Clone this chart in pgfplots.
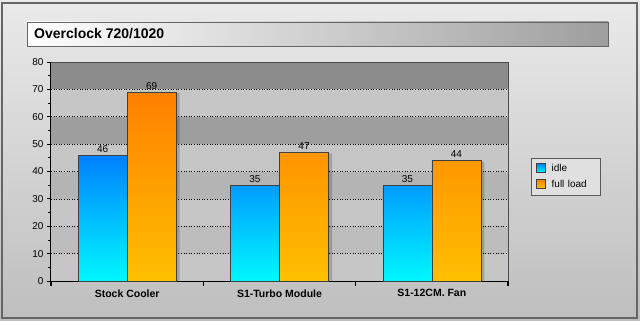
\documentclass[border=0pt]{standalone}
\usepackage{fontspec}
\setmainfont{Liberation Sans}
\usepackage{pgfplots}
\pgfplotsset{compat=1.18}
\definecolor{bgA}{HTML}{EAEAEA}
\definecolor{bgB}{HTML}{BEBEBE}
\definecolor{bandD}{HTML}{8C8C8C}
\definecolor{bandL}{HTML}{C6C6C6}
\definecolor{bandM}{HTML}{9E9E9E}
\definecolor{bandN}{HTML}{B4B4B4}
\definecolor{bandO}{HTML}{BDBDBD}
\definecolor{idleT}{HTML}{0080FF}
\definecolor{idleB}{HTML}{00F8FF}
\definecolor{fullT}{HTML}{FF8000}
\definecolor{fullB}{HTML}{FFC000}
\begin{document}
\begin{tikzpicture}[x=1pt,y=1pt]
\path[use as bounding box] (0,0) rectangle (640,321);
\shade[shading angle=30, top color=bgA, bottom color=bgB] (0,0) rectangle (640,321);
\draw[black!60, line width=1.2pt] (2,3) rectangle (637,318);
\shade[left color=white, right color=black!38, draw=black!60, line width=0.6pt] (27,275) rectangle (608,299);
\node[anchor=west, font=\bfseries\fontsize{14}{16}\selectfont, inner sep=0pt] at (34,287) {Overclock 720/1020};
\begin{axis}[
  at={(51pt,40pt)}, anchor=south west,
  width=457pt, height=219pt, scale only axis,
  ymin=0, ymax=80, xmin=-0.5, xmax=2.5,
  ybar, bar width=49pt,
  ytick={0,10,...,80}, minor y tick num=1,
  xtick={0,1,2},
  xticklabels={Stock Cooler, S1-Turbo Module, S1-12CM. Fan},
  x tick label style={font=\bfseries\fontsize{10.5}{12}\selectfont, yshift=-1pt},
  y tick label style={font=\fontsize{10}{12}\selectfont},
  /pgf/number format/assume math mode=true,
  major x tick style={draw=none},
  tick align=outside,
  ytick style={draw=black, line width=0.8pt},
  major tick length=4pt, minor tick length=2.5pt,
  axis x line*=bottom, axis y line*=left,
  axis line style={line width=1.2pt, -},
  legend style={at={(1.0503,0.5616)}, anchor=north west, draw=black!65,
    fill=black!12, font=\fontsize{10}{12}\selectfont, inner xsep=5pt, inner ysep=4pt,
    row sep=3pt, text width=42pt, /tikz/every odd column/.append style={column sep=4pt}},
  legend image code/.code={\path[#1, draw=black!75] (4pt,-4pt) rectangle (13pt,5pt);},
  clip=false,
]
\fill[bandL] (axis cs:-0.5,0) rectangle (axis cs:2.5,80);
\fill[bandD] (axis cs:-0.5,70) rectangle (axis cs:2.5,80);
\fill[bandM] (axis cs:-0.5,50) rectangle (axis cs:2.5,60);
\fill[bandN] (axis cs:-0.5,30) rectangle (axis cs:2.5,40);
\fill[bandO] (axis cs:-0.5,10) rectangle (axis cs:2.5,20);
\pgfplotsinvokeforeach{10,20,30,40,50,60,70}{\draw[black, dotted, line width=0.6pt] (axis cs:-0.5,#1) -- (axis cs:2.5,#1);}
\draw[black!70, line width=0.7pt] (axis cs:-0.5,80) -- (axis cs:2.5,80) -- (axis cs:2.5,0);
\pgfplotsinvokeforeach{-0.5,0.5,1.5,2.5}{\draw[black, line width=1.2pt] (axis cs:#1,0) -- ++(0pt,-5pt);}
\addplot[forget plot, draw=none, fill=black, fill opacity=0.18, bar shift=-21pt]
  coordinates {(0,45.6) (1,34.6) (2,34.6)};
\addplot[forget plot, draw=none, fill=black, fill opacity=0.18, bar shift=28pt]
  coordinates {(0,68.6) (1,46.6) (2,43.6)};
\addplot[draw=black!75, line width=0.5pt, top color=idleT, bottom color=idleB, bar shift=-24.5pt,
  nodes near coords, every node near coord/.append style={font=\fontsize{10}{12}\selectfont, black, yshift=-1pt}]
  coordinates {(0,46) (1,35) (2,35)};
\addplot[draw=black!75, line width=0.5pt, top color=fullT, bottom color=fullB, bar shift=24.5pt,
  nodes near coords, every node near coord/.append style={font=\fontsize{10}{12}\selectfont, black, yshift=-1pt}]
  coordinates {(0,69) (1,47) (2,44)};
\legend{idle, full load}
\end{axis}
\end{tikzpicture}
\end{document}
